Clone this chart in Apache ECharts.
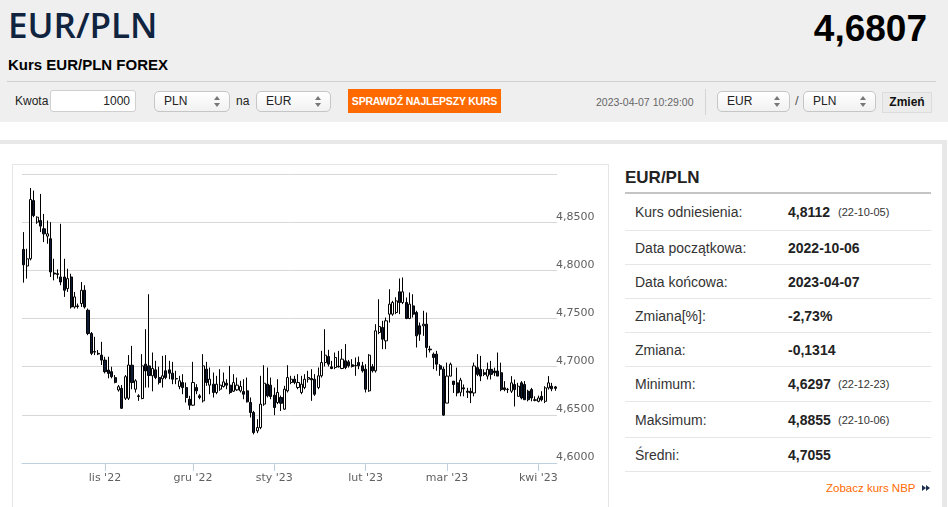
<!DOCTYPE html>
<html><head><meta charset="utf-8">
<script src="https://cdn.jsdelivr.net/npm/echarts@6/dist/echarts.min.js"></script>
<style>
html,body{margin:0;padding:0;width:948px;height:507px;overflow:hidden;background:#fff;font-family:"Liberation Sans",Arial,sans-serif;}
.a{position:absolute;white-space:nowrap;}
#hdr{left:0;top:0;width:948px;height:122px;background:#efefef;}
#title{left:8px;top:0;font-family:"Open Sans",sans-serif;font-weight:600;font-size:35px;line-height:50px;color:#10233f;}
#rate{right:21px;top:10px;font-weight:bold;font-size:37px;line-height:37px;color:#000;}
#sub{left:8px;top:57px;font-weight:bold;font-size:15px;line-height:15px;color:#000;}
#hline{left:7px;top:81px;width:929px;height:1px;background:#cfcfcf;}
.lbl{font-size:12px;line-height:14px;color:#222;top:94px;}
.inp{top:90px;height:22px;border:1px solid #cfcfcf;border-radius:3px;background:#fff;box-sizing:border-box;}
.sel{top:91px;height:21px;border:1px solid #c6c6c6;border-radius:5px;background:linear-gradient(#ffffff,#f1f1f1);box-sizing:border-box;font-size:12px;line-height:19px;padding-left:9px;color:#222;}
.sel:before{content:"";position:absolute;right:9px;top:4px;border-left:3px solid transparent;border-right:3px solid transparent;border-bottom:4px solid #777;}
.sel:after{content:"";position:absolute;right:9px;top:11px;border-left:3px solid transparent;border-right:3px solid transparent;border-top:4px solid #777;}
#btn{left:348px;top:89px;width:153px;height:24px;background:#ff6a00;color:#fff;font-weight:bold;font-size:10.5px;line-height:24px;text-align:center;letter-spacing:-0.2px;}
#dt{left:596px;top:96px;font-size:10.5px;line-height:12px;color:#666;}
#vsep{left:705px;top:89px;width:1px;height:26px;background:#d4d4d4;}
#zm{left:882px;top:92px;width:50px;height:21px;background:#ebebeb;border:1px solid #dcdcdc;box-sizing:border-box;font-weight:bold;font-size:12px;line-height:19px;text-align:center;color:#111;}
#ftop{left:0;top:140px;width:947px;height:4px;background:#e8e8e8;}
#fright{left:942px;top:140px;width:5px;height:367px;background:#e8e8e8;}
#cbox{left:12px;top:164px;width:597px;height:360px;border:1px solid #e6e6e6;box-sizing:border-box;}
#chart{left:13px;top:165px;width:595px;height:342px;}
#th{left:625px;top:168px;font-weight:bold;font-size:17px;line-height:19px;color:#222;}
#thl{left:625px;top:192px;width:306px;height:2px;background:#c4c4c4;}
.row{left:625px;width:306px;border-bottom:1px solid #e6e6e6;box-sizing:border-box;}
.row span{position:absolute;top:50%;transform:translateY(-50%);white-space:nowrap;}
.k{left:10px;font-size:14px;color:#333;}
.v{left:163px;font-size:14px;font-weight:bold;color:#222;}
.d{left:213px;font-size:11px;color:#333;}
#nbp{left:826px;top:481px;font-size:11.5px;line-height:14px;color:#ff6a00;}
.tri{position:absolute;top:485px;border-top:3.5px solid transparent;border-bottom:3.5px solid transparent;border-left:4px solid #1d2d4d;}
</style></head>
<body>
<div id="hdr" class="a"></div>
<div id="title" class="a">EUR/PLN</div>
<div id="rate" class="a">4,6807</div>
<div id="sub" class="a">Kurs EUR/PLN FOREX</div>
<div id="hline" class="a"></div>
<div class="a lbl" style="left:15px;">Kwota</div>
<div class="a inp" style="left:50px;width:86px;"><span class="a" style="right:5px;top:3px;font-size:12px;line-height:14px;color:#222;">1000</span></div>
<div class="a sel" style="left:154px;width:76px;">PLN</div>
<div class="a lbl" style="left:236px;">na</div>
<div class="a sel" style="left:256px;width:75px;">EUR</div>
<div id="btn" class="a">SPRAWDŹ NAJLEPSZY KURS</div>
<div id="dt" class="a">2023-04-07 10:29:00</div>
<div id="vsep" class="a"></div>
<div class="a sel" style="left:717px;width:73px;">EUR</div>
<div class="a lbl" style="left:795px;font-size:13px;color:#555;">/</div>
<div class="a sel" style="left:803px;width:73px;">PLN</div>
<div id="zm" class="a">Zmień</div>

<div id="ftop" class="a"></div>
<div id="fright" class="a"></div>
<div id="cbox" class="a"></div>
<div id="chart" class="a"></div>

<div id="th" class="a">EUR/PLN</div>
<div id="thl" class="a"></div>
<div class="a row" style="top:194px;height:37px;"><span class="k">Kurs odniesienia:</span><span class="v">4,8112</span><span class="d">(22-10-05)</span></div>
<div class="a row" style="top:231px;height:34px;"><span class="k">Data początkowa:</span><span class="v">2022-10-06</span></div>
<div class="a row" style="top:265px;height:34px;"><span class="k">Data końcowa:</span><span class="v">2023-04-07</span></div>
<div class="a row" style="top:299px;height:34px;"><span class="k">Zmiana[%]:</span><span class="v">-2,73%</span></div>
<div class="a row" style="top:333px;height:34px;"><span class="k">Zmiana:</span><span class="v">-0,1314</span></div>
<div class="a row" style="top:367px;height:35px;"><span class="k">Minimum:</span><span class="v">4,6297</span><span class="d">(22-12-23)</span></div>
<div class="a row" style="top:402px;height:36px;"><span class="k">Maksimum:</span><span class="v">4,8855</span><span class="d">(22-10-06)</span></div>
<div class="a row" style="top:438px;height:34px;"><span class="k">Średni:</span><span class="v">4,7055</span></div>
<div id="nbp" class="a">Zobacz kurs NBP</div>
<div class="tri" style="left:922px;"></div>
<div class="tri" style="left:926px;"></div>

<script>
// trading days per month (Sun–Fri forex sessions)
const daysOct = [4,5,6,7,9,10,11,12,13,14,16,17,18,19,20,21,23,24,25,26,27,28,30,31];
const daysNov = [1,2,3,4,6,7,8,9,10,11,13,14,15,16,17,18,20,21,22,23,24,25,27,28,29,30];
const daysDec = [1,2,4,5,6,7,8,9,11,12,13,14,15,16,18,19,20,21,22,23,27,28,29,30];
const daysJan = [1,2,3,4,5,6,8,9,10,11,12,13,15,16,17,18,19,20,22,23,24,25,26,27,29,30,31];
const daysFeb = [1,2,3,5,6,7,8,9,10,12,13,14,15,16,17,19,20,21,22,23,24,26,27,28];
const daysMar = [1,2,3,5,6,7,8,9,10,12,13,14,15,16,17,19,20,21,22,23,24,26,27,28,29,30,31];
const daysApr = [2,3,4,5,6,7];

// [open, close, low, high]
const ohlcOct = [
[4.8217,4.8058,4.7872,4.8397],[4.8045,4.8120,4.7914,4.8224],[4.8120,4.8735,4.8103,4.8855],[4.8724,4.8569,4.8552,4.8828],
[4.8500,4.8552,4.8483,4.8560],[4.8517,4.8459,4.8397,4.8793],[4.8431,4.8379,4.8293,4.8586],[4.8355,4.8379,4.8276,4.8517],
[4.8328,4.7983,4.7931,4.8500],[4.7972,4.7962,4.7896,4.8120],[4.7965,4.7958,4.7914,4.8010],[4.7931,4.7879,4.7845,4.8483],
[4.7931,4.7793,4.7724,4.8120],[4.7810,4.7914,4.7776,4.8017],[4.7931,4.7620,4.7603,4.7965],[4.7620,4.7724,4.7603,4.7776],
[4.7631,4.7624,4.7603,4.7655],[4.7655,4.7793,4.7620,4.7879],[4.7793,4.7620,4.7603,4.7845],[4.7586,4.7344,4.7327,4.7603],
[4.7344,4.7138,4.7120,4.7360],[4.7151,4.7158,4.7120,4.7310],[4.7138,4.7131,4.7120,4.7172],[4.7120,4.7068,4.7017,4.7258]];
const ohlcNov = [
[4.7068,4.6948,4.6930,4.7103],[4.6965,4.6930,4.6879,4.7103],[4.6948,4.6896,4.6879,4.6999],[4.6886,4.6837,4.6827,4.6913],
[4.6758,4.6792,4.6741,4.6810],[4.6775,4.6568,4.6561,4.6810],[4.6672,4.6896,4.6654,4.6913],[4.6672,4.7017,4.6654,4.7120],
[4.7015,4.6835,4.6766,4.7216],[4.6766,4.6853,4.6731,4.6870],[4.6697,4.6690,4.6645,4.6714],[4.6669,4.7008,4.6662,4.7130],
[4.7026,4.6956,4.6783,4.7389],[4.7008,4.6908,4.6783,4.7752],[4.6905,4.6981,4.6744,4.7147],[4.6967,4.6887,4.6870,4.7061],
[4.6887,4.6835,4.6815,4.7000],[4.6874,4.6905,4.6783,4.7112],[4.6957,4.6887,4.6870,4.7120],[4.6967,4.6932,4.6870,4.7061],
[4.6932,4.6870,4.6818,4.7050],[4.6877,4.6873,4.6818,4.6957],[4.6794,4.6853,4.6766,4.6905],[4.6835,4.6783,4.6714,4.6922],
[4.6783,4.6680,4.6628,4.6835],[4.6662,4.6600,4.6552,4.6697]];
const ohlcDec = [
[4.6600,4.6835,4.6593,4.7050],[4.6783,4.6749,4.6714,4.6818],[4.6697,4.6680,4.6662,4.6714],[4.6645,4.7008,4.6628,4.7130],
[4.6974,4.6835,4.6801,4.7050],[4.6808,4.6870,4.6714,4.6991],[4.6818,4.6732,4.6680,4.6939],[4.6732,4.6818,4.6714,4.6905],
[4.6766,4.6808,4.6749,4.6974],[4.6794,4.6842,4.6783,4.6939],[4.6828,4.6808,4.6766,4.6870],[4.6808,4.6732,4.6714,4.7008],
[4.6745,4.6835,4.6738,4.6922],[4.6759,4.6808,4.6749,4.6887],[4.6749,4.6794,4.6732,4.6853],[4.6742,4.6714,4.6662,4.6870],
[4.6749,4.6635,4.6628,4.6887],[4.6628,4.6524,4.6472,4.6680],[4.6524,4.6316,4.6297,4.6541],[4.6333,4.6368,4.6310,4.6455],
[4.6368,4.6611,4.6351,4.6905],[4.6611,4.6828,4.6593,4.7015],[4.6818,4.6697,4.6680,4.6991],[4.6808,4.6690,4.6662,4.6887]];
const ohlcJan = [
[4.6704,4.6576,4.6496,4.6783],[4.6628,4.6732,4.6611,4.6870],[4.6680,4.6620,4.6540,4.6700],[4.6559,4.6766,4.6552,4.6801],
[4.6749,4.6887,4.6732,4.7015],[4.6836,4.6870,4.6818,4.6905],[4.6870,4.6836,4.6818,4.6905],[4.6784,4.6835,4.6766,4.6922],
[4.6732,4.6818,4.6714,4.6905],[4.6784,4.6870,4.6766,4.6922],[4.6870,4.6887,4.6835,4.6957],[4.6877,4.6863,4.6645,4.6974],
[4.6870,4.6714,4.6697,4.6922],[4.6784,4.6905,4.6766,4.6991],[4.6905,4.7043,4.6887,4.7164],[4.7043,4.7119,4.7002,4.7389],
[4.7105,4.7026,4.7002,4.7175],[4.6998,4.6981,4.6974,4.7060],[4.6991,4.7095,4.6974,4.7147],[4.7005,4.6998,4.6991,4.7164],
[4.6981,4.7078,4.6974,4.7182],[4.7061,4.6991,4.6974,4.7234],[4.7050,4.7009,4.6991,4.7070],[4.7019,4.7002,4.6991,4.7078],
[4.7009,4.7012,4.6905,4.7095],[4.7043,4.7009,4.6974,4.7105],[4.7009,4.6957,4.6939,4.7050]];
const ohlcFeb = [
[4.6974,4.6766,4.6732,4.7026],[4.6749,4.7119,4.6739,4.7130],[4.7000,4.6957,4.6939,4.7026],[4.6957,4.7372,4.6939,4.7441],
[4.7355,4.7417,4.7337,4.7700],[4.7407,4.7285,4.7182,4.7476],[4.7268,4.7476,4.7182,4.7510],[4.7545,4.7649,4.7458,4.7804],
[4.7545,4.7666,4.7528,4.7683],[4.7562,4.7683,4.7545,4.7720],[4.7777,4.7666,4.7545,4.7915],[4.7666,4.7777,4.7649,4.7926],
[4.7666,4.7500,4.7493,4.7718],[4.7500,4.7649,4.7493,4.7770],[4.7631,4.7545,4.7510,4.7752],[4.7562,4.7320,4.7199,4.7580],
[4.7424,4.7337,4.7268,4.7458],[4.7424,4.7441,4.7320,4.7580],[4.7441,4.7199,4.7095,4.7562],[4.7182,4.7175,4.7147,4.7216],
[4.7130,4.7095,4.6974,4.7147],[4.7130,4.7026,4.6957,4.7164],[4.7009,4.6974,4.6905,4.7026],[4.6974,4.6497,4.6490,4.7000]];
const ohlcMar = [
[4.6622,4.6902,4.6622,4.7042],[4.6902,4.7025,4.6900,4.7042],[4.6850,4.6815,4.6727,4.6850],[4.6832,4.6727,4.6692,4.6990],
[4.6734,4.6860,4.6692,4.6884],[4.6780,4.6769,4.6692,4.6815],[4.6745,4.6734,4.6675,4.6780],[4.6745,4.6727,4.6622,4.6780],
[4.6727,4.7007,4.6692,4.7042],[4.6990,4.6920,4.6902,4.7130],[4.6972,4.6902,4.6850,4.7112],[4.6937,4.6920,4.6902,4.6972],
[4.6902,4.6972,4.6867,4.7042],[4.6972,4.6920,4.6867,4.7060],[4.6955,4.6937,4.6902,4.6990],[4.6955,4.6902,4.6902,4.7147],
[4.6937,4.6762,4.6745,4.7042],[4.6780,4.6762,4.6745,4.6850],[4.6762,4.6765,4.6727,4.6780],[4.6745,4.6832,4.6727,4.6902],
[4.6815,4.6762,4.6587,4.6867],[4.6692,4.6797,4.6692,4.6832],[4.6832,4.6675,4.6660,4.6850],[4.6815,4.6657,4.6657,4.6850],
[4.6745,4.6657,4.6640,4.6760],[4.6762,4.6675,4.6640,4.6780],[4.6650,4.6657,4.6640,4.6692]];
const ohlcApr = [
[4.6640,4.6675,4.6630,4.6700],[4.6692,4.6657,4.6640,4.6745],[4.6640,4.6780,4.6622,4.6797],[4.6780,4.6832,4.6762,4.6902],
[4.6797,4.6770,4.6745,4.6832],[4.6790,4.6775,4.6750,4.6800]];

// y-axis ticks
const yMin = 4.60, yMax = 4.90, yStep = 0.05;
const monthNames = ['sty','lut','mar','kwi','maj','cze','lip','sie','wrz','paź','lis','gru'];

const months = [['2022-10',daysOct,ohlcOct],['2022-11',daysNov,ohlcNov],['2022-12',daysDec,ohlcDec],
  ['2023-01',daysJan,ohlcJan],['2023-02',daysFeb,ohlcFeb],['2023-03',daysMar,ohlcMar],['2023-04',daysApr,ohlcApr]];
const categories = [], values = [];
months.forEach(([ym, days, vals]) => {
  const n = Math.min(days.length, vals.length);
  for (let i = 0; i < n; i++) { categories.push(ym + '-' + String(days[i]).padStart(2,'0')); values.push(vals[i]); }
});
const isMonthStart = (idx) => idx > 0 && categories[idx].slice(0,7) !== categories[idx-1].slice(0,7);

const chart = echarts.init(document.getElementById('chart'), null, {renderer:'canvas'});
chart.setOption({
  animation: false,
  grid: {left: 9, top: 9, width: 535, height: 289},
  xAxis: {
    type: 'category', data: categories, boundaryGap: true,
    axisLine: {lineStyle: {color: '#c0d0e0', width: 1}},
    axisTick: {show: true, alignWithLabel: true, interval: isMonthStart, length: 8, lineStyle: {color: '#c0d0e0'}},
    axisLabel: {interval: isMonthStart, margin: 10, fontSize: 11, color: '#606060', fontFamily: 'DejaVu Sans',
      formatter: v => monthNames[+v.slice(5,7)-1] + " '" + v.slice(2,4)},
    splitLine: {show: false}
  },
  yAxis: {
    type: 'value', position: 'right', min: yMin, max: yMax, interval: yStep, scale: true,
    axisLine: {show: false}, axisTick: {show: false},
    splitLine: {lineStyle: {color: '#d8d8d8', width: 1}},
    axisLabel: {margin: -1, fontSize: 11, color: '#606060', fontFamily: 'DejaVu Sans', verticalAlign: 'bottom', lineHeight: 11,
      formatter: v => Math.abs(v - yMax) < 1e-9 ? '' : v.toFixed(4).replace('.', ',')}
  },
  series: [{
    type: 'candlestick', data: values, barWidth: 2.6,
    itemStyle: {color: '#ffffff', color0: '#0d1a33', borderColor: '#000000', borderColor0: '#000000', borderWidth: 1}
  }]
});
</script>
</body></html>
